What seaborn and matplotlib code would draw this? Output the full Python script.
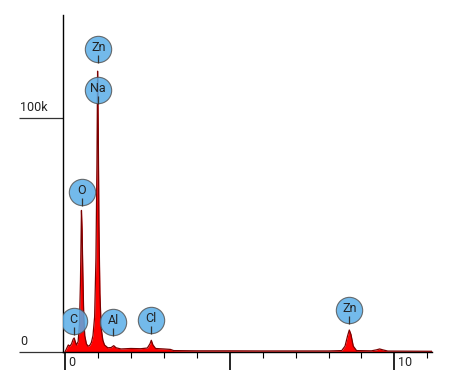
# EDS spectrum with element markers
import numpy as np
import pandas as pd
import seaborn as sns
import matplotlib.pyplot as plt
from matplotlib.ticker import MultipleLocator

# spectrum trace (energy in keV, counts)
energy = [0.00, 0.05, 0.10, 0.15, 0.20, 0.25, 0.28, 0.31, 0.35, 0.40,
          0.44, 0.47, 0.49, 0.50, 0.52, 0.54, 0.57, 0.60, 0.65, 0.70,
          0.75, 0.80, 0.85, 0.90, 0.94, 0.97, 0.99, 1.01, 1.03, 1.06,
          1.10, 1.15, 1.20, 1.30, 1.40, 1.48, 1.55, 1.70, 2.00, 2.30,
          2.50, 2.58, 2.62, 2.67, 2.75, 3.00, 3.20, 3.30, 4.00, 5.00,
          6.00, 7.00, 8.00, 8.40, 8.50, 8.58, 8.63, 8.68, 8.75, 8.85,
          9.30, 9.45, 9.55, 9.65, 9.80, 10.50, 11.20]
counts = [0, 1500, 3000, 2500, 3500, 5500, 6000, 4500, 3000, 4500,
          12000, 30000, 50000, 60500, 52000, 35000, 15000, 7000, 3500, 2500,
          2800, 4000, 7000, 15000, 40000, 80000, 120000, 95000, 55000, 25000,
          10000, 5000, 3000, 1800, 1900, 2700, 1800, 1300, 1500, 1400,
          1700, 3500, 5000, 3000, 1500, 1300, 1100, 600, 500, 500,
          450, 450, 450, 600, 2500, 7000, 9400, 7500, 2500, 600,
          500, 900, 1300, 900, 400, 350, 300]

# element labels
elements = ['Zn', 'Na', 'O', 'C', 'Al', 'Cl', 'Zn']
label_energy = [1.01, 1.01, 0.51, 0.26, 1.47, 2.61, 8.63]
label_height = [129400, 112000, 68400, 13200, 13000, 13500, 17900]

df = pd.DataFrame({'energy': energy, 'counts': counts})
labels = pd.DataFrame({'el': elements, 'x': label_energy, 'y': label_height})

sns.set_style('white')
plt.rcParams['font.family'] = ['Roboto', 'DejaVu Sans']

fig = plt.figure(figsize=(4.53, 3.78), dpi=100)
ax = fig.add_axes([63 / 453, 26 / 378, 369 / 453, 337 / 378])

ax.fill_between(df['energy'], df['counts'], color='#ff0000', lw=0, zorder=2)
sns.lineplot(data=df, x='energy', y='counts', color='#7a0000', lw=0.9,
             ax=ax, zorder=3)

# label markers
px = 100000 / 234  # counts per pixel
ax.vlines(labels['x'], labels['y'] - 14 * px, labels['y'] - 6 * px,
          color='#333333', lw=0.9, zorder=5)
sns.scatterplot(data=labels, x='x', y='y', s=360, color='#5aaee8',
                edgecolor='#555555', linewidth=0.8, alpha=0.85, ax=ax,
                zorder=4, legend=False)
for _, r in labels.iterrows():
    ax.text(r['x'], r['y'] + 1.5 * px, r['el'], ha='center', va='center',
            fontsize=9, color='#222222', zorder=6)

ax.set_xlim(-0.06, 11.14)
ax.set_ylim(0, 144000)

for s in ['top', 'right']:
    ax.spines[s].set_visible(False)
for s in ['left', 'bottom']:
    ax.spines[s].set_color('black')
    ax.spines[s].set_linewidth(1.0)

ax.set_xticks([0, 5, 10])
ax.xaxis.set_minor_locator(MultipleLocator(1))
ax.tick_params(axis='x', which='major', direction='out', length=13,
               width=1.2, color='black', labelbottom=False, bottom=True)
ax.tick_params(axis='x', which='minor', direction='out', length=4,
               width=0.8, color='black', bottom=True)
ax.set_yticks([0, 100000])
ax.tick_params(axis='y', direction='out', length=32, width=0.9,
               color='#333333', labelleft=False, left=True)

for v, t in [(0, '0'), (100000, '100k')]:
    ax.annotate(t, (-43 / 369, v), xycoords=('axes fraction', 'data'),
                xytext=(0, 3), textcoords='offset points', ha='left',
                va='bottom', fontsize=9, color='#222222')
for v, t in [(0, '0'), (10, '10')]:
    ax.annotate(t, (v, 0), xycoords=('data', 'axes fraction'),
                xytext=(2.5, -3), textcoords='offset points', ha='left',
                va='top', fontsize=9, color='#222222')

ax.set_xlabel('')
ax.set_ylabel('')
fig.savefig('out.png', dpi=100)
